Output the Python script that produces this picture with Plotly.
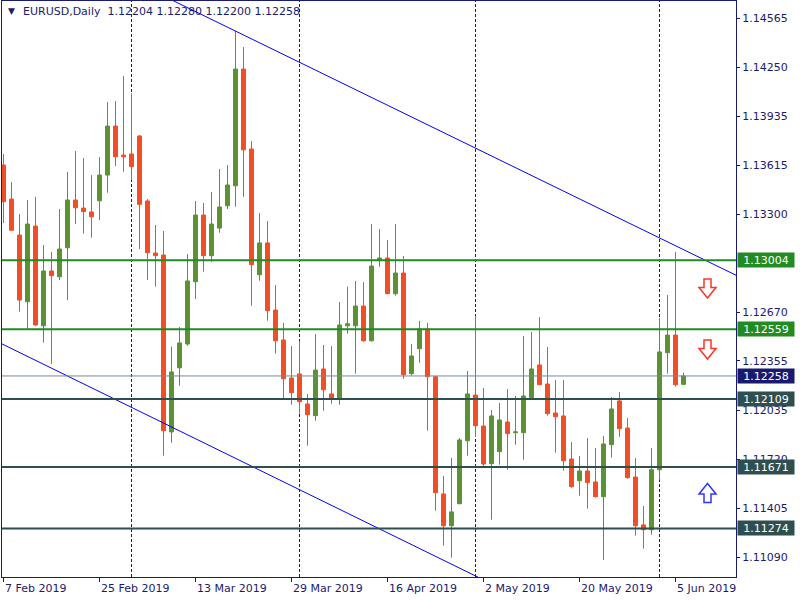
import plotly.graph_objects as go
import pandas as pd

# ---------------- data ----------------
dates = pd.bdate_range("2019-02-07", "2019-06-06")

opens = [1.13619, 1.13399, 1.13167, 1.12737, 1.13225, 1.12582, 1.12935, 1.12898, 1.13085, 1.13393,
         1.13341, 1.13316, 1.13388, 1.13554, 1.13870, 1.13683, 1.13690, 1.13806, 1.13387, 1.13051,
         1.13038, 1.11897, 1.12311, 1.12464, 1.12866, 1.13296, 1.13034, 1.13212, 1.13356, 1.13485,
         1.14238, 1.13722, 1.12911, 1.13116, 1.12683, 1.12490, 1.12245, 1.12271, 1.12077, 1.12002,
         1.12303, 1.12142, 1.12111, 1.12582, 1.12582, 1.12709, 1.12485, 1.13008, 1.13019, 1.12789,
         1.12922, 1.12273, 1.12434, 1.12561, 1.12253, 1.11497, 1.11292, 1.11434, 1.11840, 1.12135,
         1.11935, 1.11692, 1.11770, 1.11961, 1.11892, 1.11892, 1.12118, 1.12329, 1.12206, 1.12019,
         1.12000, 1.11722, 1.11582, 1.11645, 1.11574, 1.11479, 1.11815, 1.12097, 1.11922, 1.11606,
         1.11297, 1.11266, 1.11653, 1.12408, 1.12522, 1.12204]
highs = [1.13690, 1.13509, 1.13303, 1.13393, 1.13414, 1.13103, 1.13058, 1.13335, 1.13574, 1.13709,
         1.13664, 1.13554, 1.13670, 1.14025, 1.14032, 1.14193, 1.14081, 1.13812, 1.13399, 1.13232,
         1.13193, 1.12447, 1.12574, 1.13045, 1.13387, 1.13374, 1.13445, 1.13593, 1.13619, 1.14483,
         1.14380, 1.13774, 1.13309, 1.13258, 1.12845, 1.12600, 1.12451, 1.12484, 1.12142, 1.12529,
         1.12458, 1.12451, 1.12735, 1.12834, 1.12871, 1.12864, 1.13238, 1.13206, 1.13135, 1.13238,
         1.13032, 1.12464, 1.12613, 1.12600, 1.12258, 1.11613, 1.11729, 1.11858, 1.12290, 1.12645,
         1.12180, 1.12038, 1.12084, 1.12174, 1.12129, 1.12516, 1.12542, 1.12638, 1.12445, 1.12232,
         1.12232, 1.11832, 1.11742, 1.11858, 1.11793, 1.11871, 1.12122, 1.12155, 1.11987, 1.11729,
         1.11419, 1.11793, 1.12632, 1.12780, 1.13058, 1.12280]
lows = [1.13245, 1.13195, 1.12673, 1.12559, 1.12580, 1.12473, 1.12335, 1.12877, 1.12748, 1.13238,
        1.13176, 1.13150, 1.13264, 1.13440, 1.13612, 1.13576, 1.13522, 1.13077, 1.12877, 1.12834,
        1.11744, 1.11828, 1.12195, 1.12453, 1.12754, 1.12931, 1.12995, 1.13182, 1.13335, 1.13350,
        1.13414, 1.12711, 1.12872, 1.12614, 1.12402, 1.12111, 1.12073, 1.12015, 1.11808, 1.11969,
        1.12034, 1.12079, 1.12073, 1.12531, 1.12273, 1.12479, 1.12480, 1.12963, 1.12785, 1.12776,
        1.12240, 1.12260, 1.12344, 1.11905, 1.11389, 1.11163, 1.11086, 1.11430, 1.11744, 1.11864,
        1.11677, 1.11331, 1.11686, 1.11653, 1.11815, 1.11718, 1.12105, 1.12198, 1.12002, 1.11763,
        1.11647, 1.11537, 1.11486, 1.11402, 1.11473, 1.11071, 1.11731, 1.11866, 1.11595, 1.11228,
        1.11144, 1.11234, 1.11589, 1.12273, 1.12189, 1.12200]
closes = [1.13382, 1.13198, 1.12748, 1.13238, 1.12587, 1.12935, 1.12905, 1.13077, 1.13393, 1.13343,
          1.13318, 1.13285, 1.13554, 1.13870, 1.13672, 1.13672, 1.13608, 1.13365, 1.13053, 1.13034,
          1.11905, 1.12284, 1.12471, 1.12871, 1.13296, 1.13034, 1.13238, 1.13348, 1.13490, 1.14238,
          1.13717, 1.12976, 1.13116, 1.12679, 1.12485, 1.12240, 1.12150, 1.12092, 1.12008, 1.12296,
          1.12169, 1.12111, 1.12587, 1.12595, 1.12709, 1.12485, 1.12967, 1.13019, 1.12789, 1.12922,
          1.12266, 1.12387, 1.12561, 1.12253, 1.11505, 1.11292, 1.11381, 1.11845, 1.12142, 1.11937,
          1.11690, 1.12000, 1.11974, 1.11886, 1.11897, 1.12129, 1.12303, 1.12202, 1.12015, 1.11995,
          1.11711, 1.11544, 1.11645, 1.11570, 1.11479, 1.11819, 1.12045, 1.11918, 1.11602, 1.11292,
          1.11266, 1.11653, 1.12413, 1.12522, 1.12202, 1.12258]

price_ticks = [1.14565, 1.14250, 1.13935, 1.13615, 1.13300, 1.12670, 1.12355,
               1.12035, 1.11720, 1.11405, 1.11090]
date_tick_idx = [0, 12, 24, 36, 48, 60, 72, 84]
separator_idx = [16, 37, 59, 82]

green_levels = [1.13004, 1.12559]
slate_levels = [1.12109, 1.11671, 1.11274]
bid_price = 1.12258

upper_tl_idx = [29, 85]
upper_tl_price = [1.14483, 1.13073]
lower_tl_idx = [0, 59]
lower_tl_price = [1.12460, 1.10968]

arrow_idx = [88, 88, 88]
arrow_price = [1.12822, 1.12429, 1.11503]
arrow_dir = ["down", "down", "up"]

title_text = "EURUSD,Daily\u00a0\u00a01.12204 1.12280 1.12200 1.12258"

# ---------------- styles ----------------
GREEN = "#5b9234"
RED = "#f24e26"
NAVY = "#1a1a70"
FONT = "DejaVu Sans"

x_idx = list(range(len(opens)))

fig = go.Figure()

fig.add_trace(go.Candlestick(
    x=x_idx, open=opens, high=highs, low=lows, close=closes,
    increasing=dict(line=dict(color=GREEN, width=1), fillcolor=GREEN),
    decreasing=dict(line=dict(color=RED, width=1), fillcolor=RED),
    whiskerwidth=0, showlegend=False, hoverinfo="skip",
))


def extend(xs, ys, x_from, x_to):
    slope = (ys[1] - ys[0]) / (xs[1] - xs[0])
    return [x_from, x_to], [ys[0] + slope * (x_from - xs[0]), ys[0] + slope * (x_to - xs[0])]


for xs, ys in [(upper_tl_idx, upper_tl_price), (lower_tl_idx, lower_tl_price)]:
    ex, ey = extend(xs, ys, -5, 100)
    fig.add_trace(go.Scatter(x=ex, y=ey, mode="lines",
                             line=dict(color="#0000ff", width=1),
                             showlegend=False, hoverinfo="skip"))

shapes = []
for s in separator_idx:
    shapes.append(dict(type="line", xref="x", yref="paper", x0=s, x1=s, y0=0, y1=1,
                       line=dict(color=NAVY, width=1, dash="3px,2px"), layer="below"))
for lv in green_levels:
    shapes.append(dict(type="line", xref="paper", yref="y", x0=0, x1=1, y0=lv, y1=lv,
                       line=dict(color="#228b22", width=2)))
for lv in slate_levels:
    shapes.append(dict(type="line", xref="paper", yref="y", x0=0, x1=1, y0=lv, y1=lv,
                       line=dict(color="#2f4f4f", width=2)))
shapes.append(dict(type="line", xref="paper", yref="y", x0=0, x1=1, y0=bid_price, y1=bid_price,
                   line=dict(color="#778899", width=1)))

down_path = "M -3.5,9.5 L 3.5,9.5 L 3.5,1 L 8.5,1 L 0,-9.5 L -8.5,1 L -3.5,1 Z"
up_path = "M -3.5,-9.5 L 3.5,-9.5 L 3.5,-1 L 8.5,-1 L 0,9.5 L -8.5,-1 L -3.5,-1 Z"
for ax, ay, ad in zip(arrow_idx, arrow_price, arrow_dir):
    col = "#ff3328" if ad == "down" else "#3333ff"
    shapes.append(dict(type="path", xref="x", yref="y", xsizemode="pixel", ysizemode="pixel",
                       xanchor=ax, yanchor=ay, path=down_path if ad == "down" else up_path,
                       fillcolor="white", line=dict(color=col, width=1.5)))

annotations = []
# date labels (left aligned at tick, MT4 style)
for i in date_tick_idx:
    d = dates[i]
    annotations.append(dict(x=i, xref="x", y=0, yref="paper", xanchor="left", yanchor="top",
                            yshift=-3, xshift=-1, showarrow=False,
                            text=f"{d.day} {d.strftime('%b %Y')}",
                            font=dict(family=FONT, size=11, color=NAVY)))
# price boxes
for lv, bg in ([(v, "#228b22") for v in green_levels] + [(v, "#2f4f4f") for v in slate_levels]
               + [(bid_price, "#191970")]):
    annotations.append(dict(x=1, xref="paper", y=lv, yref="y", xanchor="left", yanchor="middle",
                            xshift=1, showarrow=False, text=f"{lv:.5f}", bgcolor=bg,
                            width=56, height=14, borderpad=0, align="center",
                            font=dict(family=FONT, size=11, color="white")))
# title
annotations.append(dict(x=0, xref="paper", y=1, yref="paper", xanchor="left", yanchor="top",
                        xshift=4, yshift=-3, showarrow=False, text="▼",
                        font=dict(family=FONT, size=9, color=NAVY)))
annotations.append(dict(x=0, xref="paper", y=1, yref="paper", xanchor="left", yanchor="top",
                        xshift=19, yshift=-2, showarrow=False, text=title_text,
                        font=dict(family=FONT, size=11, color=NAVY)))

fig.update_layout(
    width=800, height=600,
    margin=dict(l=2, r=64, t=1, b=23),
    paper_bgcolor="white", plot_bgcolor="white",
    boxgap=0.5, boxgroupgap=0,
    shapes=shapes, annotations=annotations,
    font=dict(family=FONT, size=11, color=NAVY),
    xaxis=dict(range=[-0.1875, 91.5625], rangeslider=dict(visible=False),
               showgrid=False, zeroline=False, showline=True, mirror=True,
               linecolor=NAVY, linewidth=1, ticks="outside", ticklen=4, tickcolor=NAVY,
               tickvals=date_tick_idx, showticklabels=False, fixedrange=True),
    yaxis=dict(range=[1.10961, 1.14677], side="right", showgrid=False, zeroline=False,
               showline=True, mirror=True, linecolor=NAVY, linewidth=1,
               ticks="outside", ticklen=3, tickcolor=NAVY,
               tickvals=price_ticks, ticktext=[f"{v:.5f}" for v in price_ticks],
               tickfont=dict(family=FONT, size=11, color=NAVY), fixedrange=True),
)

fig.write_html("out.html", config={"displayModeBar": False, "staticPlot": True},
               post_script="document.body.style.margin='0';document.body.style.overflow='hidden';")
